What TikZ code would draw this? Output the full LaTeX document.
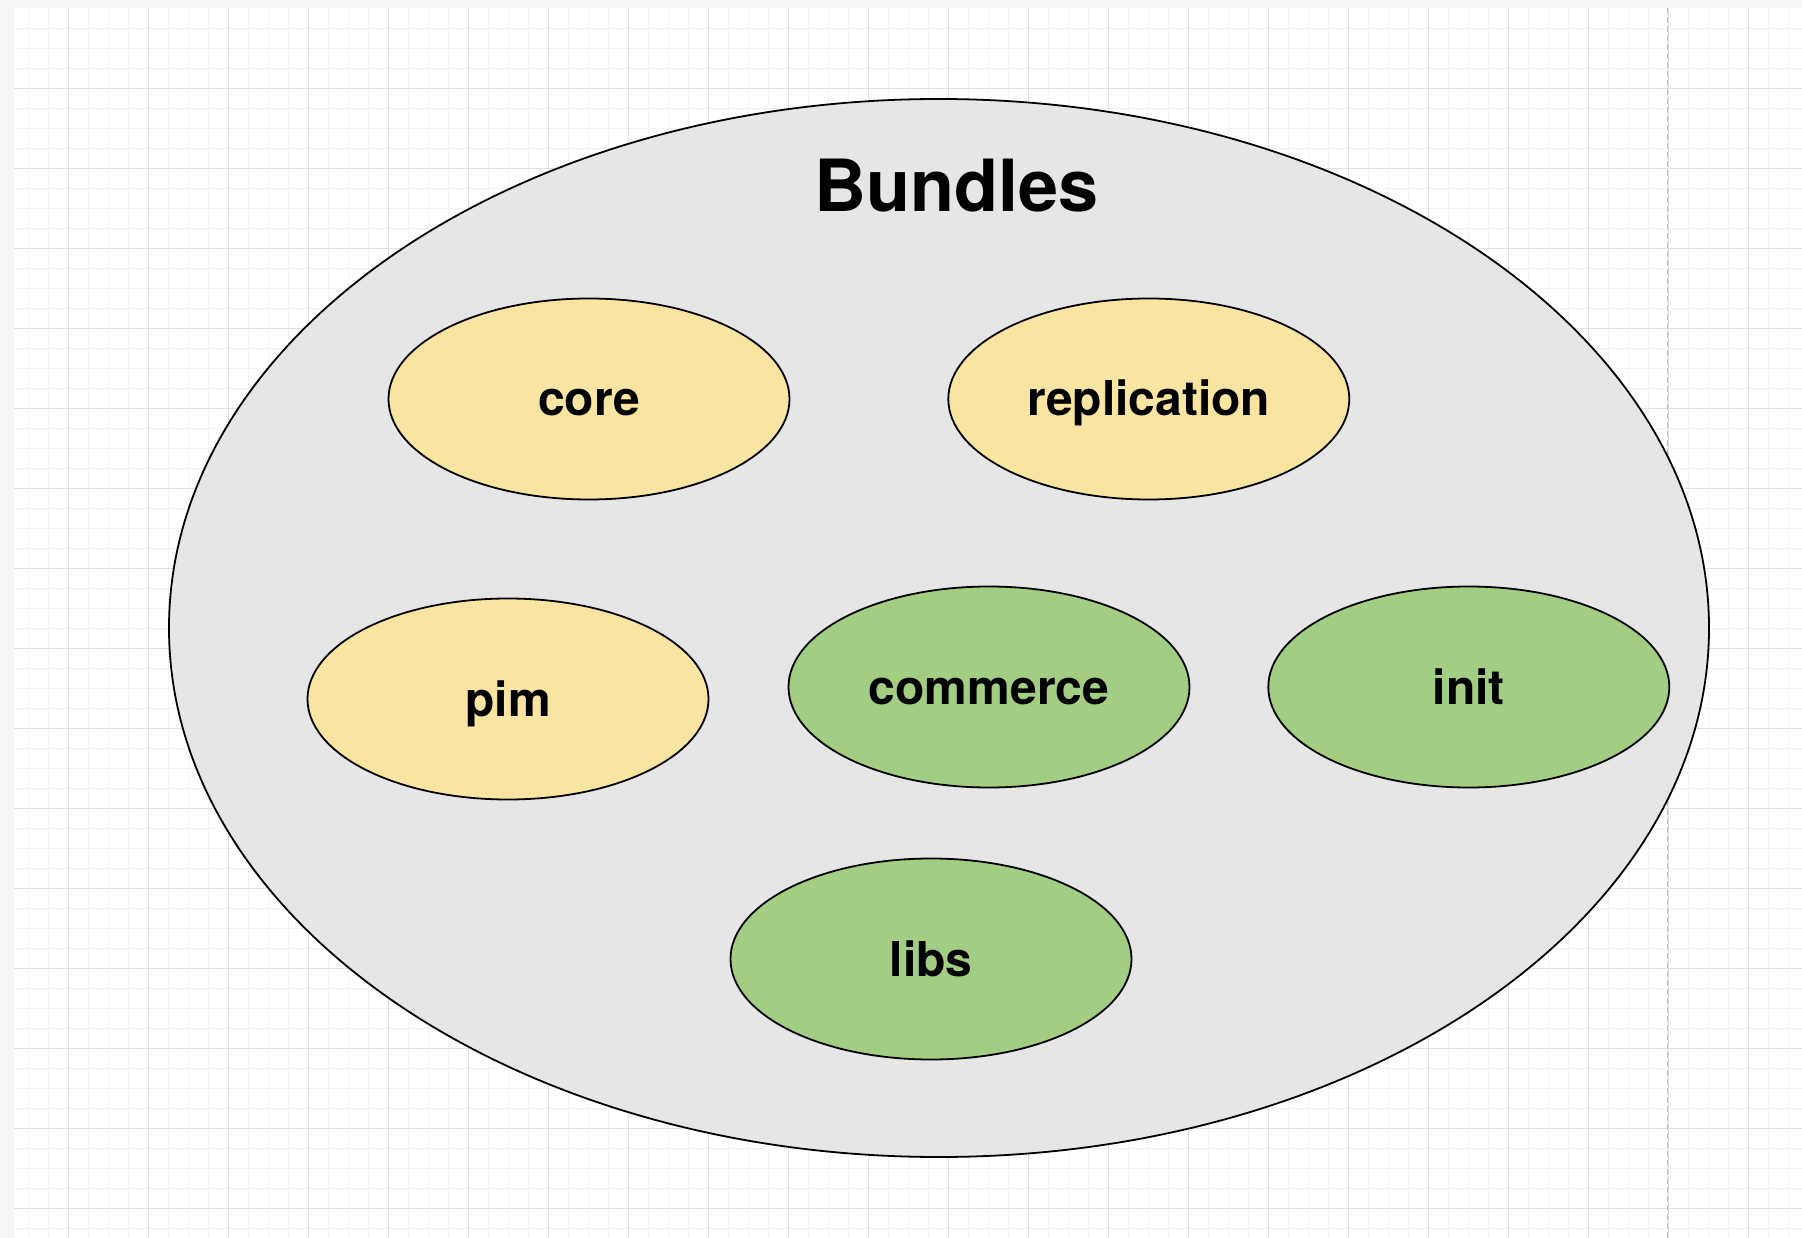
\documentclass[tikz,border=0pt]{standalone}
\usepackage{fontspec}
\setmainfont{TeX Gyre Heros}
\usetikzlibrary{shapes.geometric,positioning}
\definecolor{canvasbg}{HTML}{F5F6F8}
\definecolor{gridminor}{HTML}{F3F3F3}
\definecolor{gridmajor}{HTML}{E1E1E1}
\definecolor{pagebreak}{HTML}{BDBDBD}
\definecolor{bundlegray}{HTML}{E6E6E6}
\definecolor{bundleyellow}{HTML}{F9E4A1}
\definecolor{bundlegreen}{HTML}{A2CD82}
\tikzset{
  bundle/.style={ellipse, draw=black, line width=1.8pt, inner sep=0pt,
    minimum width=401pt, minimum height=201pt, text height=34pt, text depth=0pt,
    font=\fontsize{48pt}{58pt}\selectfont\bfseries},
  legacy/.style={bundle, fill=bundleyellow},
  modern/.style={bundle, fill=bundlegreen},
}
\begin{document}
\begin{tikzpicture}[x=1pt, y=-1pt]
            \useasboundingbox (0, 0) rectangle (1802, 1238);
            \fill[canvasbg] (0, 0) rectangle (1802, 1238);
            \fill[white] (14, 8) rectangle (1802, 1238);
            \foreach \i in {0,...,89} \draw[gridminor, line width=1pt] (8.5+20*\i, 8) -- (8.5+20*\i, 1238);
            \foreach \i in {1,...,61} \draw[gridminor, line width=1pt] (14, 8.3+20*\i) -- (1802, 8.3+20*\i);
            \foreach \i in {0,...,21} \draw[gridmajor, line width=1pt] (68.5+80*\i, 8) -- (68.5+80*\i, 1238);
            \foreach \i in {1,...,15} \draw[gridmajor, line width=1pt] (14, 8.3+80*\i) -- (1802, 8.3+80*\i);
            \draw[pagebreak, line width=1pt, dash pattern=on 6pt off 3pt] (1667, 8) -- (1667, 1238);
            \node[ellipse, draw=black, line width=1.8pt, fill=bundlegray, minimum width=1540pt, minimum height=1058pt] (bundles) at (939, 628) {};
            \node[anchor=base, font=\fontsize{72pt}{86pt}\selectfont\bfseries] (title) at (957, 212) {Bundles};
            \node[legacy] (core) at (589, 399) {core};
            \node[legacy, right=157pt of core] (replication) {replication};
            \node[legacy] (pim) at (508, 699) {pim};
            \node[modern] (commerce) at (989, 687) {commerce};
            \node[modern, right=77pt of commerce] (init) {init};
            \node[modern] (libs) at (931, 959) {libs};
\end{tikzpicture}
\end{document}
